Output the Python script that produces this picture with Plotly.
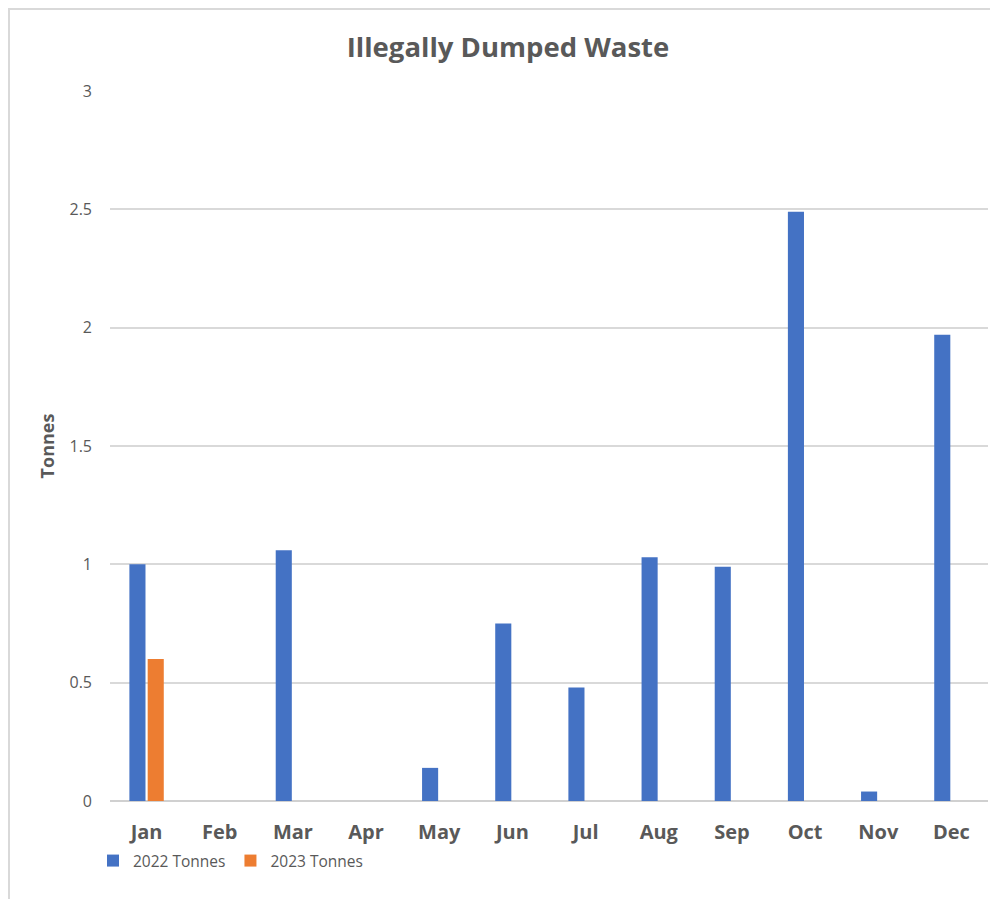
import plotly.graph_objects as go

months = ["Jan", "Feb", "Mar", "Apr", "May", "Jun", "Jul", "Aug", "Sep", "Oct", "Nov", "Dec"]
tonnes_2022 = [1.0, None, 1.06, None, 0.14, 0.75, 0.48, 1.03, 0.99, 2.49, 0.04, 1.97]
tonnes_2023 = [0.6, None, None, None, None, None, None, None, None, None, None, None]
y_ticks = [0, 0.5, 1, 1.5, 2, 2.5, 3]
y_tick_labels = ["0", "0.5", "1", "1.5", "2", "2.5", "3"]

GRAY = "#595959"
FONT = "'Open Sans', Lato, sans-serif"

fig = go.Figure()
fig.add_trace(go.Bar(name="2022 Tonnes", x=months, y=tonnes_2022,
                     marker=dict(color="#4472C4", line=dict(width=0))))
fig.add_trace(go.Bar(name="2023 Tonnes", x=months, y=tonnes_2023,
                     marker=dict(color="#ED7D31", line=dict(width=0))))

OFF = 8  # page body margin
W, H = 990, 891
PX0, PX1, PY0, PY1 = 110, 988, 91, 801  # plot area in page pixels
L = PX0 - OFF
R = W - (PX1 - OFF)
T = PY0 - OFF
B = H - (PY1 - OFF)
pw, ph = PX1 - PX0, PY1 - PY0

def px_x(p):
    return (p - PX0) / pw

def px_y(p):
    return (PY1 - p) / ph

fig.update_layout(
    width=W, height=H,
    margin=dict(l=L, r=R, t=T, b=B),
    paper_bgcolor="white", plot_bgcolor="white",
    font=dict(family=FONT, color=GRAY),
    title=dict(text="<b>Illegally Dumped Waste</b>", x=(508 - OFF) / W, xanchor="center",
               y=1 - (47 - OFF) / H, yanchor="middle", font=dict(size=27.5, color=GRAY, family=FONT)),
    barmode="group", bargap=0.5, bargroupgap=0.12,
    showlegend=True,
    legend=dict(orientation="h", x=px_x(93), xanchor="left", y=px_y(861), yanchor="middle",
                font=dict(size=15.5, color=GRAY, family=FONT), bgcolor="rgba(0,0,0,0)",
                itemwidth=30),
    xaxis=dict(showgrid=False, showline=False, ticks="", zeroline=False,
               tickfont=dict(size=20, color=GRAY, family=FONT, weight="bold"),
               ticklabelstandoff=17),
    yaxis=dict(range=[0, 3], tickvals=y_ticks, ticktext=y_tick_labels,
               showgrid=True, gridcolor="#d9d9d9", gridwidth=1.5,
               zeroline=True, zerolinecolor="#d0d0d0", zerolinewidth=2,
               showline=False, ticks="", ticklabelstandoff=17,
               tickfont=dict(size=16, color=GRAY, family=FONT),
               title=dict(text="<b>Tonnes</b>", standoff=10,
                          font=dict(size=18, color=GRAY, family=FONT))),
    shapes=[dict(type="rect", xref="paper", yref="paper",
                 x0=px_x(9), x1=px_x(1010), y0=px_y(910), y1=px_y(9),
                 line=dict(color="#d9d9d9", width=2), fillcolor="rgba(0,0,0,0)", layer="below")],
)

fig.write_html("out.html")
